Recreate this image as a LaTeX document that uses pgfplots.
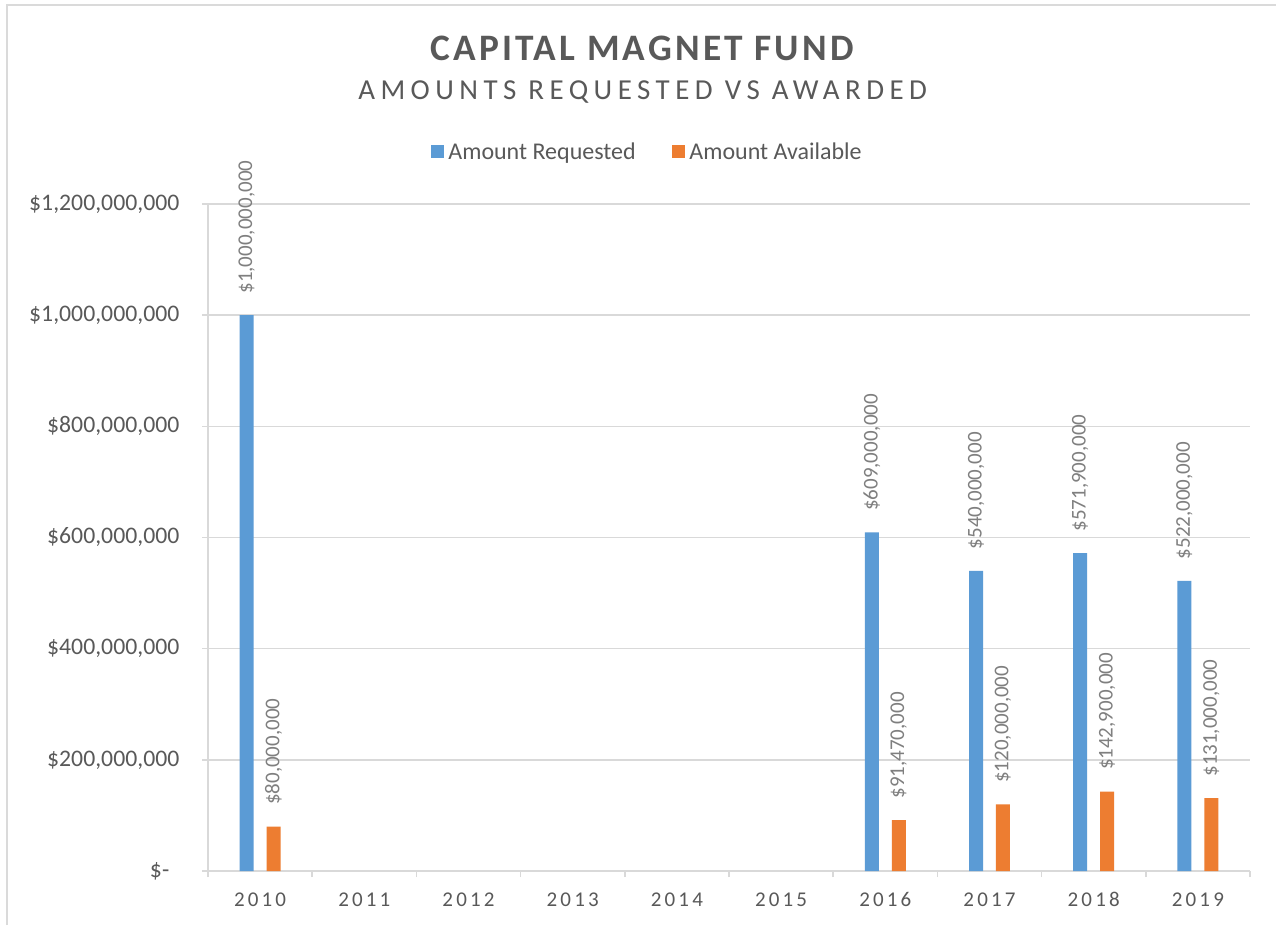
\documentclass[border=0pt]{standalone}
\usepackage{pgfplots}
\pgfplotsset{compat=1.18}
\usepackage{pgfplotstable}
\usepackage{fontspec}
\setmainfont{Carlito}
\newfontfamily\titlefont[LetterSpace=8.5]{Carlito}
\newfontfamily\subfont[LetterSpace=19]{Carlito}
\newfontfamily\yearfont[LetterSpace=15]{Carlito}
\definecolor{bluec}{HTML}{5B9BD5}
\definecolor{orangec}{HTML}{ED7D31}
\definecolor{gridc}{HTML}{D9D9D9}
\definecolor{textc}{HTML}{595959}
\definecolor{labc}{HTML}{7F7F7F}
\definecolor{framec}{HTML}{DADADA}

\pgfplotstableread{
x y label
0 1000000000 1,000,000,000
6 609000000 609,000,000
7 540000000 540,000,000
8 571900000 571,900,000
9 522000000 522,000,000
}\reqdata
\pgfplotstableread{
x y label
0 80000000 80,000,000
6 91470000 91,470,000
7 120000000 120,000,000
8 142900000 142,900,000
9 131000000 131,000,000
}\availdata

\begin{document}
\begin{tikzpicture}
\useasboundingbox (0,0) rectangle (957pt,693.75pt);
\fill[white] (0,0) rectangle (957pt,693.75pt);
\draw[framec, line width=1.5pt] (5.25pt,0) -- (5.25pt,690pt) -- (957pt,690pt);
\node[anchor=base, text=textc, font=\titlefont\bfseries\fontsize{28}{30}\selectfont] at (481.5pt,648pt) {CAPITAL MAGNET FUND};
\node[anchor=base, text=textc, font=\subfont\fontsize{21.7}{24}\selectfont] at (482pt,618.75pt) {AMOUNTS REQUESTED VS AWARDED};
\begin{axis}[
  at={(156pt,40.5pt)}, anchor=south west,
  scale only axis, width=781.5pt, height=500.25pt,
  clip=false,
  xmin=-0.5, xmax=9.5, ymin=0, ymax=1.2e9,
  ybar=9.7pt, bar width=10.5pt,
  axis x line*=bottom, axis y line*=left,
  axis line style={draw=gridc, line width=1.1pt, -},
  tick align=outside,
  major tick length=4.5pt,
  tick style={draw=gridc, line width=1.1pt},
  xtick={-0.5,0.5,...,9.5},
  xticklabels={},
  extra x ticks={0,1,2,3,4,5,6,7,8,9},
  extra x tick labels={2010,2011,2012,2013,2014,2015,2016,2017,2018,2019},
  extra x tick style={major tick length=0pt},
  xticklabel style={text=textc, font=\yearfont\fontsize{15.75}{18}\selectfont, anchor=base, yshift=-26.25pt},
  ytick={0,2e8,4e8,6e8,8e8,1e9,1.2e9},
  yticklabels={{\$-\rule{7.5pt}{0pt}},{\$200,000,000},{\$400,000,000},{\$600,000,000},{\$800,000,000},{\$1,000,000,000},{\$1,200,000,000}},
  scaled y ticks=false,
  yticklabel style={text=textc, font=\fontsize{17.8}{20}\selectfont, anchor=east, xshift=-13.5pt},
  ymajorgrids, grid style={draw=gridc, line width=1.1pt},
  point meta=explicit symbolic,
  nodes near coords={\$\pgfplotspointmeta},
  every node near coord/.append style={rotate=90, anchor=west, inner xsep=16pt, inner ysep=0pt, text=labc, font=\fontsize{15.75}{18}\selectfont},
  legend columns=2,
  legend style={at={(0.4218,1.078)}, anchor=center, draw=none, fill=none, text=textc, font=\fontsize{18}{21}\selectfont, /tikz/every odd column/.append style={column sep=1.5pt}, /tikz/every even column/.append style={column sep=25pt}},
  legend image code/.code={\fill[#1] (0pt,-4.9pt) rectangle (9.75pt,4.9pt);},
]
\addplot[fill=bluec, draw=none] table[x=x, y=y, meta=label] {\reqdata};
\addlegendentry{Amount Requested}
\addplot[fill=orangec, draw=none] table[x=x, y=y, meta=label] {\availdata};
\addlegendentry{Amount Available}
\end{axis}
\end{tikzpicture}
\end{document}
